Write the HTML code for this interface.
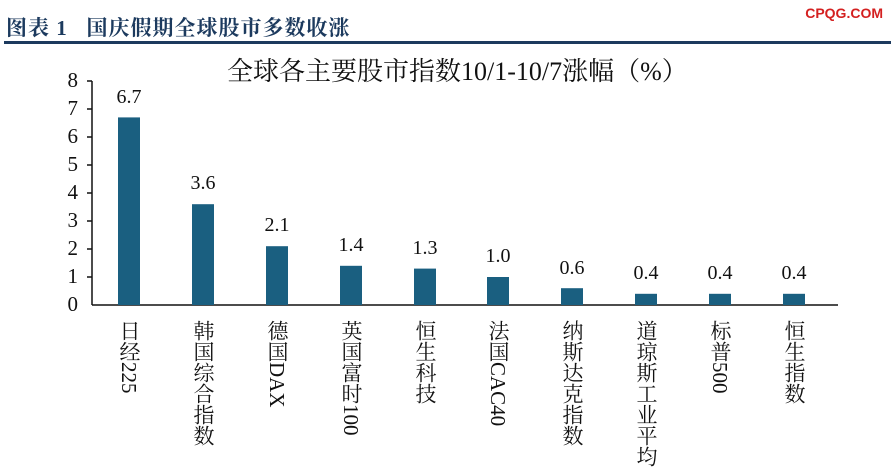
<!DOCTYPE html>
<html><head><meta charset="utf-8"><style>
body{margin:0;width:891px;height:476px;background:#fff;position:relative;overflow:hidden;font-family:"Liberation Serif","Noto Serif CJK SC",serif}
.a{position:absolute}
.h{left:6px;top:12px;font:bold 21px "Liberation Serif","Noto Serif CJK SC",serif;color:#1c3a5e;letter-spacing:1px}
.v{writing-mode:vertical-rl;font-size:21px;color:#111;line-height:22px}
.yl{width:20px;text-align:right;font-size:21px;color:#111}
.dl{width:60px;text-align:center;font-size:20px;color:#111}
</style></head><body>
<div class="a h">图表 1&nbsp;&nbsp;&nbsp;国庆假期全球股市多数收涨</div>
<div class="a" style="right:8px;top:5px;color:#d42020;font:bold 14px 'Liberation Sans',sans-serif">CPQG.COM</div>
<div class="a" style="left:4px;top:41px;width:887px;height:3px;background:#1c3a5e"></div>
<div class="a" style="left:227px;width:460px;top:51px;text-align:center;font-size:26px;color:#111;white-space:nowrap">全球各主要股市指数10/1-10/7涨幅（%）</div>
<svg class="a" style="left:0;top:0" width="891" height="476">
<line x1="92" y1="81" x2="92" y2="305" stroke="#111" stroke-width="1.5"/>
<line x1="92" y1="305" x2="838" y2="305" stroke="#111" stroke-width="1.5"/>
<g stroke="#111" stroke-width="1.5">
<line x1="87" y1="81" x2="92" y2="81"/><line x1="87" y1="109" x2="92" y2="109"/><line x1="87" y1="137" x2="92" y2="137"/><line x1="87" y1="165" x2="92" y2="165"/><line x1="87" y1="193" x2="92" y2="193"/><line x1="87" y1="221" x2="92" y2="221"/><line x1="87" y1="249" x2="92" y2="249"/><line x1="87" y1="277" x2="92" y2="277"/>
</g>
<g fill="#1a5f80">
<rect x="118" y="117.4" width="22" height="187.6"/>
<rect x="192" y="204.2" width="22" height="100.8"/>
<rect x="266" y="246.2" width="22" height="58.8"/>
<rect x="340" y="265.8" width="22" height="39.2"/>
<rect x="414" y="268.6" width="22" height="36.4"/>
<rect x="487" y="277" width="22" height="28"/>
<rect x="561" y="288.2" width="22" height="16.8"/>
<rect x="635" y="293.8" width="22" height="11.2"/>
<rect x="709" y="293.8" width="22" height="11.2"/>
<rect x="783" y="293.8" width="22" height="11.2"/>
</g>
</svg>
<div class="a yl" style="left:58px;top:68px">8</div>
<div class="a yl" style="left:58px;top:96px">7</div>
<div class="a yl" style="left:58px;top:124px">6</div>
<div class="a yl" style="left:58px;top:152px">5</div>
<div class="a yl" style="left:58px;top:180px">4</div>
<div class="a yl" style="left:58px;top:208px">3</div>
<div class="a yl" style="left:58px;top:236px">2</div>
<div class="a yl" style="left:58px;top:264px">1</div>
<div class="a yl" style="left:58px;top:292px">0</div>
<div class="a dl" style="left:99px;top:86px">6.7</div>
<div class="a dl" style="left:173px;top:172px">3.6</div>
<div class="a dl" style="left:247px;top:214px">2.1</div>
<div class="a dl" style="left:321px;top:234px">1.4</div>
<div class="a dl" style="left:395px;top:237px">1.3</div>
<div class="a dl" style="left:468px;top:245px">1.0</div>
<div class="a dl" style="left:542px;top:257px">0.6</div>
<div class="a dl" style="left:616px;top:262px">0.4</div>
<div class="a dl" style="left:690px;top:262px">0.4</div>
<div class="a dl" style="left:764px;top:262px">0.4</div>
<div class="a v" style="left:118px;top:320px">日经225</div>
<div class="a v" style="left:192px;top:320px">韩国综合指数</div>
<div class="a v" style="left:266px;top:320px">德国DAX</div>
<div class="a v" style="left:340px;top:320px">英国富时100</div>
<div class="a v" style="left:414px;top:320px">恒生科技</div>
<div class="a v" style="left:487px;top:320px">法国CAC40</div>
<div class="a v" style="left:561px;top:320px">纳斯达克指数</div>
<div class="a v" style="left:635px;top:320px">道琼斯工业平均</div>
<div class="a v" style="left:709px;top:320px">标普500</div>
<div class="a v" style="left:783px;top:320px">恒生指数</div>
</body></html>
